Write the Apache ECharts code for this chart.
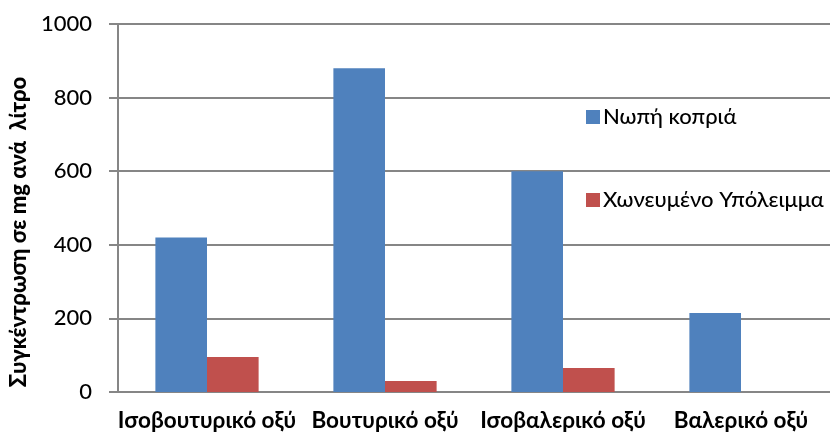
<!DOCTYPE html>
<html>
<head>
<meta charset="utf-8">
<script src="https://cdn.jsdelivr.net/npm/echarts@6/dist/echarts.min.js"></script>
<style>
  html, body { margin: 0; padding: 0; background: #fff; }
  #chart { width: 830px; height: 432px; }
</style>
</head>
<body>
<div id="chart"></div>
<script>
// Volatile fatty acid concentrations (mg per litre)
const categories = ['Ισοβουτυρικό οξύ', 'Βουτυρικό οξύ', 'Ισοβαλερικό οξύ', 'Βαλερικό οξύ'];
const freshManure = [420, 880, 600, 215];
const digestate = [95, 30, 65, 0];
const seriesNames = ['Νωπή κοπριά', 'Χωνευμένο Υπόλειμμα'];
const yTicks = [0, 200, 400, 600, 800, 1000];
const yTitle = 'Συγκέντρωση σε mg ανά  λίτρο';

const FONT = 'Lato, "Open Sans", "Noto Sans", sans-serif';
const GRID_COLOR = '#868686';

const chart = echarts.init(document.getElementById('chart'), null, { renderer: 'canvas' });

chart.setOption({
  animation: false,
  backgroundColor: '#ffffff',
  textStyle: { fontFamily: FONT },
  grid: { left: 118, top: 24, bottom: 39, right: -9, containLabel: false },
  legend: {
    orient: 'vertical',
    left: 581,
    top: 101,
    itemWidth: 14,
    itemHeight: 14,
    itemGap: 61,
    itemStyle: { borderWidth: 0 },
    textStyle: { fontFamily: FONT, fontSize: 22, fontWeight: 500, color: '#000', padding: [0, 0, 0, -2] },
    icon: 'rect',
    data: seriesNames
  },
  xAxis: {
    type: 'category',
    data: categories,
    axisLine: { lineStyle: { color: GRID_COLOR, width: 2 } },
    axisTick: { show: false },
    axisLabel: {
      fontFamily: FONT,
      fontSize: 22.5,
      fontWeight: 'bold',
      color: '#000',
      margin: 17,
      interval: 0
    }
  },
  yAxis: {
    type: 'value',
    min: yTicks[0],
    max: yTicks[yTicks.length - 1],
    interval: yTicks[1] - yTicks[0],
    name: yTitle,
    nameLocation: 'middle',
    nameGap: 87,
    nameTextStyle: {
      fontFamily: FONT,
      fontSize: 22,
      fontWeight: 900,
      color: '#000',
      padding: [0, 48, 0, 0]
    },
    axisLine: { show: true, lineStyle: { color: GRID_COLOR, width: 2 } },
    axisTick: { show: true, length: 9, inside: false, lineStyle: { color: GRID_COLOR, width: 2 } },
    splitLine: { show: true, lineStyle: { color: GRID_COLOR, width: 2 } },
    axisLabel: {
      fontFamily: FONT,
      fontSize: 22,
      fontWeight: 500,
      color: '#000',
      margin: 26,
      formatter: (v) => String(v)
    }
  },
  series: [
    {
      name: seriesNames[0],
      type: 'bar',
      data: freshManure,
      barGap: '0%',
      barCategoryGap: '42%',
      itemStyle: { color: '#4F81BD' }
    },
    {
      name: seriesNames[1],
      type: 'bar',
      data: digestate,
      barGap: '0%',
      barCategoryGap: '42%',
      itemStyle: { color: '#C0504D' }
    }
  ]
});
</script>
</body>
</html>
